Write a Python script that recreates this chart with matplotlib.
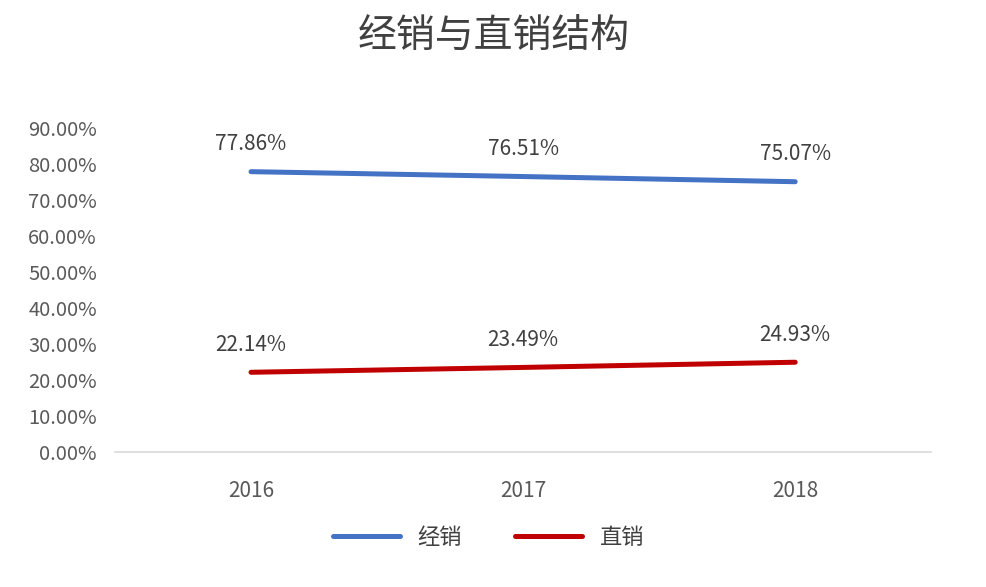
import numpy as np
import matplotlib as mpl
import matplotlib.pyplot as plt

years = ['2016', '2017', '2018']
dist = [77.86, 76.51, 75.07]    # 经销
direct = [22.14, 23.49, 24.93]  # 直销
series_names = ['经销', '直销']
title = '经销与直销结构'
yticks = np.arange(0, 100, 10)

plt.rcParams['font.family'] = ['Noto Sans CJK SC', 'DejaVu Sans']

fig = plt.figure(figsize=(9.87, 5.87), dpi=100)
fig.patch.set_facecolor('white')

ax = fig.add_axes([0.1165, 0.23, 0.827, 0.552])
x = np.arange(len(years))
colors = ['#4472C4', '#C00000']
for vals, c, name in zip([dist, direct], colors, series_names):
    ax.plot(x, vals, color=c, lw=3.6, solid_capstyle='round', label=name, zorder=3)
    for xi, v in zip(x, vals):
        ax.annotate(f'{v:.2f}%', (xi, v), xytext=(0, 12), textcoords='offset points',
                    ha='center', va='bottom', fontsize=15, color='#404040')

ax.set_xlim(-0.5, 2.5)
ax.set_ylim(0, 90)
ax.set_yticks(yticks)
ax.set_yticklabels([f'{t:.2f}%' for t in yticks], fontsize=14.5, color='#595959')
ax.set_xticks(x)
ax.set_xticklabels(years, fontsize=15, color='#595959')
ax.tick_params(length=0)
ax.tick_params(axis='y', pad=13)
ax.tick_params(axis='x', pad=20)
for s in ['top', 'right', 'left']:
    ax.spines[s].set_visible(False)
ax.spines['bottom'].set_color('#D9D9D9')
ax.spines['bottom'].set_linewidth(1.2)

fig.text(0.5, 0.938, title, ha='center', va='center', fontsize=28, color='#404040')

fig.legend(loc='center', bbox_to_anchor=(0.495, 0.085), ncol=2, frameon=False,
           fontsize=16, handlelength=3.0, columnspacing=2.4, handletextpad=0.8,
           labelcolor='#404040')

fig.savefig('out.png', dpi=100)
